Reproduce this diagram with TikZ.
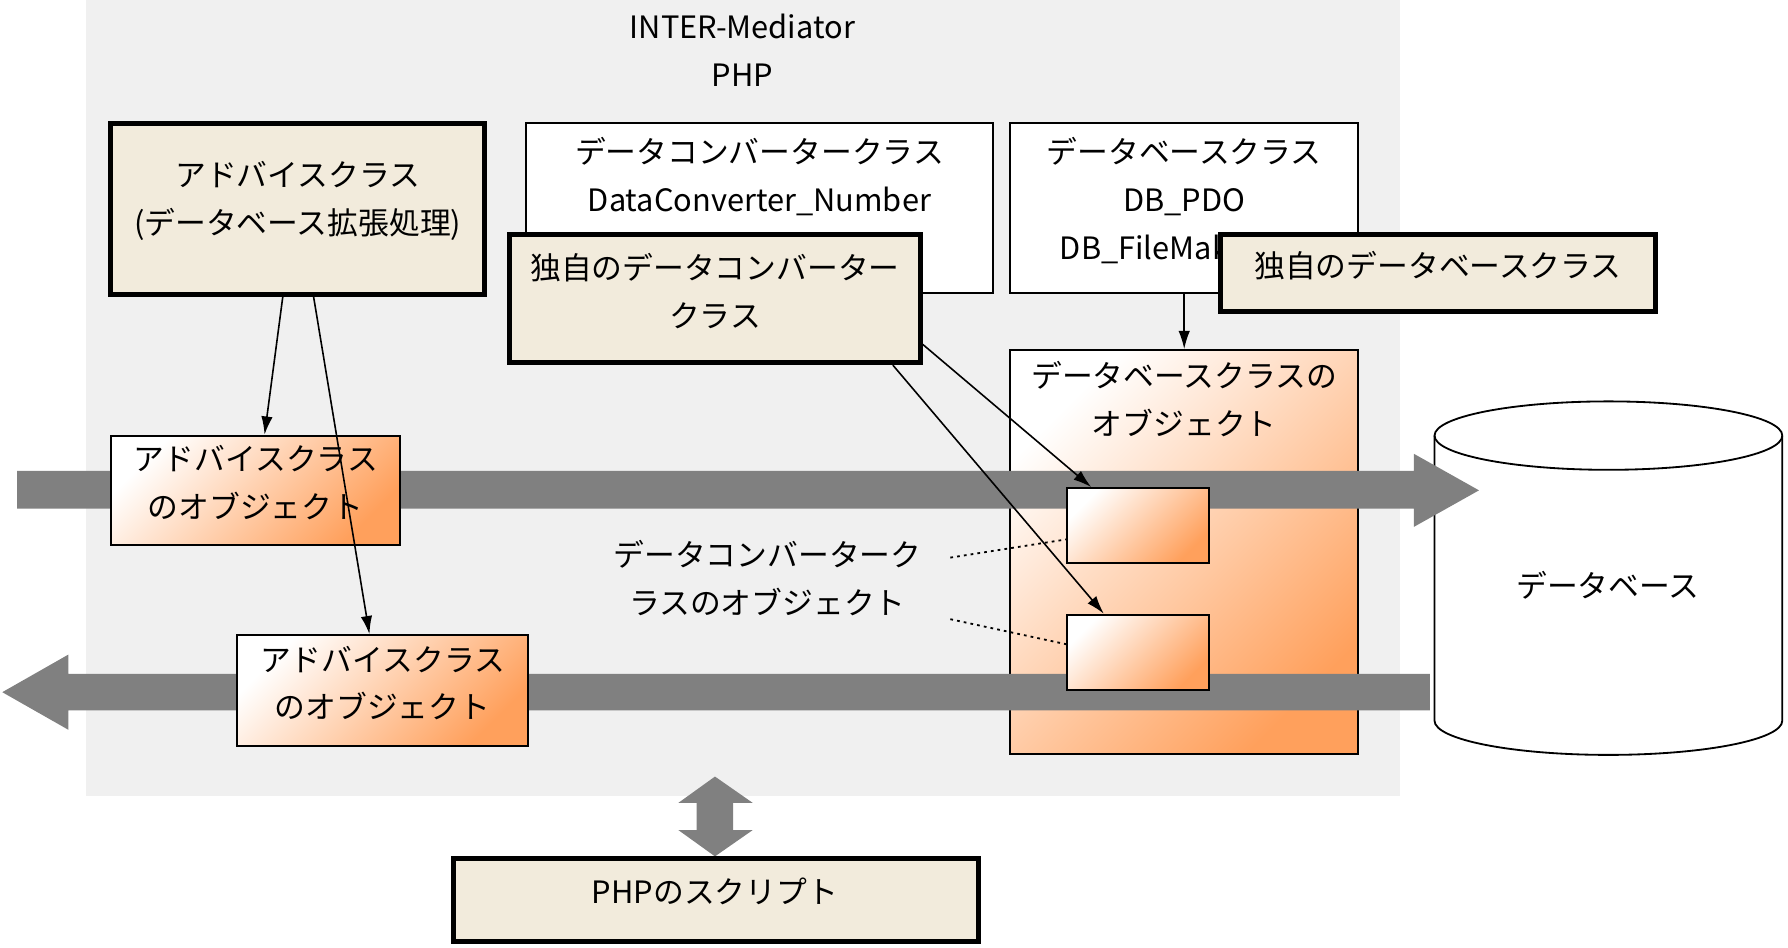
\documentclass[tikz,border=0pt]{standalone}
\usepackage{fontspec}
\setmainfont{Noto Sans CJK JP}
\usetikzlibrary{arrows.meta,fit}
\definecolor{bggray}{RGB}{240,240,240}
\definecolor{beige}{RGB}{242,235,220}
\definecolor{pipegray}{RGB}{128,128,128}
\definecolor{objorange}{RGB}{255,160,92}
\begin{document}
\begin{tikzpicture}[>={Latex[length=8pt,width=5pt]},x=0.5pt,y=-0.5pt,
    txt/.style={inner sep=0pt,align=center,font=\fontsize{13.5}{21}\selectfont},
    clsbox/.style={draw,line width=0.8pt,fill=white,inner sep=0pt},
    ownbox/.style={draw,line width=2.2pt,fill=beige,inner sep=0pt},
    objbox/.style={draw,line width=0.8pt,inner sep=0pt,top color=white,bottom color=objorange,shading angle=45},
    conn/.style={->,line width=0.7pt},
    hint/.style={line width=0.8pt,dash pattern=on 1.2pt off 1.8pt}]
\useasboundingbox (0,0) rectangle (1568,831);
\fill[bggray] (75,0) rectangle (1228,698);
\node[txt] (im) at (651,44) {INTER-Mediator\\PHP};
% class boxes
\node[clsbox,fit={(461,108) (871,257)}] (conv) {};
\node[txt] (conv-t) at (666,154.5) {データコンバータークラス\\DataConverter\_Number};
\node[clsbox,fit={(886,108) (1191,257)}] (dbcls) {};
\node[txt] (dbcls-t) at (1038.5,176) {データベースクラス\\DB\_PDO\\DB\_FileMaker\_FX};
\node[ownbox,fit={(97,108) (425,258)}] (advice) {};
\node[txt] (advice-t) at (261,176) {アドバイスクラス\\(データベース拡張処理)};
\node[ownbox,fit={(447,206) (807,318)}] (myconv) {};
\node[txt] (myconv-t) at (627,255.5) {独自のデータコンバーター\\クラス};
\node[ownbox,fit={(1070,206) (1452,273)}] (mydb) {};
\node[txt] (mydb-t) at (1261,233) {独自のデータベースクラス};
% objects
\node[objbox,fit={(886,307) (1191,661)}] (dbobj) {};
\node[txt] (dbobj-t) at (1038.5,350) {データベースクラスの\\オブジェクト};
\draw[line width=0.8pt,fill=white] (1258,382) -- (1258,632) arc[start angle=180,end angle=360,x radius=76.25pt,y radius=15pt]
    -- (1563,382) arc[start angle=0,end angle=180,x radius=76.25pt,y radius=15pt] -- cycle;
\draw[line width=0.8pt] (1258,382) arc[start angle=180,end angle=360,x radius=76.25pt,y radius=15pt];
\node[txt] (db) at (1410,513) {データベース};
\fill[pipegray] (15,413) -- (1240,413) -- (1240,398) -- (1297,430) -- (1240,462) -- (1240,446) -- (15,446) -- cycle;
\fill[pipegray] (1254,591) -- (60,591) -- (60,574) -- (2,607) -- (60,640) -- (60,623) -- (1254,623) -- cycle;
\node[objbox,fit={(936,428) (1060,494)}] (convA) {};
\node[objbox,fit={(936,539) (1060,605)}] (convB) {};
\node[objbox,fit={(97,382) (351,478)}] (advobjA) {};
\node[txt] (advobjA-t) at (224,423.5) {アドバイスクラス\\のオブジェクト};
\node[objbox,fit={(208,557) (463,654)}] (advobjB) {};
\node[txt] (advobjB-t) at (335.5,599) {アドバイスクラス\\のオブジェクト};
\node[txt] (convlbl) at (673,507) {データコンバーターク\\ラスのオブジェクト};
% script
\fill[pipegray] (627,681) -- (660,704) -- (643,704) -- (643,728) -- (660,728) -- (627,751) -- (595,728) -- (611,728)
    -- (611,704) -- (595,704) -- cycle;
\node[ownbox,fit={(398,753) (858,826)}] (script) {};
\node[txt] (script-t) at (627,782) {PHPのスクリプト};
% connectors
\draw[conn] (dbcls.south) -- (dbobj.north);
\draw[conn] ([xshift=-6.5pt]advice.south) -- ([xshift=4pt]advobjA.north);
\draw[conn] ([xshift=7pt]advice.south) -- ([xshift=-5.75pt]advobjB.north);
\draw[conn] ([yshift=-20pt]myconv.east) -- ([xshift=-20.5pt]convA.north);
\draw[conn] ([xshift=78pt]myconv.south) -- ([xshift=-15pt]convB.north);
\draw[hint] ([shift={(12.5pt,9pt)}]convlbl.east) -- ([yshift=-6pt]convA.west);
\draw[hint] ([shift={(12.5pt,-18pt)}]convlbl.east) -- ([yshift=3.5pt]convB.west);
\end{tikzpicture}
\end{document}
